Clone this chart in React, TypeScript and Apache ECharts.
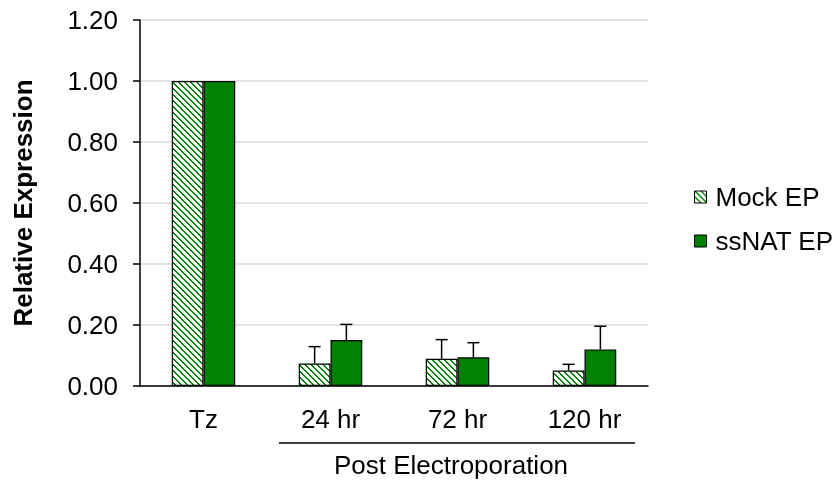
import React, { useEffect, useRef } from "react";
import * as echarts from "echarts";

const categories = ["Tz", "24 hr", "72 hr", "120 hr"];
const mockValues = [1.0, 0.074, 0.089, 0.051];
const mockErrors = [0, 0.055, 0.063, 0.02];
const ssnatValues = [1.0, 0.151, 0.094, 0.12];
const ssnatErrors = [0, 0.051, 0.048, 0.076];
const yTicks = { min: 0, max: 1.2, interval: 0.2 };

const FONT = "'Liberation Sans', Arial, sans-serif";
const GREEN = "#008000";

function hatchUrl(): string {
  const n = 6;
  let rects = "";
  for (let i = 0; i < n; i++) {
    rects += `<rect x='${i}' y='${i}' width='1' height='1'/>`;
    rects += `<rect x='${(i + 1) % n}' y='${i}' width='1' height='1'/>`;
  }
  const svg = `<svg xmlns='http://www.w3.org/2000/svg' width='${n}' height='${n}' shape-rendering='crispEdges'><rect width='${n}' height='${n}' fill='#ffffff'/><g fill='${GREEN}'>${rects}</g></svg>`;
  return "data:image/svg+xml;charset=utf-8," + encodeURIComponent(svg);
}

export default function App() {
  const ref = useRef<HTMLDivElement>(null);
  useEffect(() => {
    if (!ref.current) return;
    const chart = echarts.init(ref.current, null, { renderer: "svg" });
    const hatch = { image: hatchUrl(), repeat: "repeat", imageWidth: 6, imageHeight: 6 };

    const errRender = (offset: number) => (params: any, api: any) => {
      const idx = api.value(0);
      const val = api.value(1);
      const err = api.value(2);
      if (!err) return null;
      const base = api.coord([idx, val]);
      const top = api.coord([idx, val + err]);
      const band = api.size([1, 0])[0];
      const x = base[0] + offset * band;
      const st = { stroke: "#000", lineWidth: 1.5 };
      return {
        type: "group",
        children: [
          { type: "line", shape: { x1: x, y1: base[1], x2: x, y2: top[1] }, style: st },
          { type: "line", shape: { x1: x - 6, y1: top[1], x2: x + 6, y2: top[1] }, style: st },
        ],
      };
    };

    chart.setOption({
      animation: false,
      textStyle: { fontFamily: FONT },
      grid: { left: 140, right: 187, top: 20, bottom: 102 },
      legend: {
        orient: "vertical",
        left: 689,
        top: 179,
        itemWidth: 12,
        itemHeight: 12,
        itemGap: 18,
        icon: "rect",
        itemStyle: { borderColor: "#000", borderWidth: 1 },
        data: ["Mock EP", "ssNAT EP"],
        textStyle: { fontSize: 26, color: "#000", fontFamily: FONT, lineHeight: 24, padding: [0, 0, 0, 4] },
      },
      xAxis: {
        type: "category",
        data: categories,
        axisLine: { lineStyle: { color: "#000", width: 1.5 } },
        axisTick: { length: 7, lineStyle: { color: "#000", width: 1.5 } },
        axisLabel: { fontSize: 26, color: "#000", margin: 20, fontFamily: FONT },
      },
      yAxis: {
        type: "value",
        min: yTicks.min,
        max: yTicks.max,
        interval: yTicks.interval,
        name: "Relative Expression",
        nameLocation: "middle",
        nameGap: 104,
        nameTextStyle: { fontSize: 26, fontWeight: "bold", color: "#000", fontFamily: FONT },
        axisLine: { show: true, lineStyle: { color: "#000", width: 1.5 } },
        axisTick: { show: true, length: 7, lineStyle: { color: "#000", width: 1.5 } },
        axisLabel: { fontSize: 26, color: "#000", margin: 22, fontFamily: FONT, formatter: (v: number) => v.toFixed(2) },
        splitLine: { lineStyle: { color: "#d9d9d9", width: 1.5 } },
      },
      series: [
        {
          name: "Mock EP",
          type: "bar",
          data: mockValues,
          barGap: "0%",
          barCategoryGap: "50%",
          itemStyle: { color: hatch, borderColor: "#000", borderWidth: 1.2 },
        },
        {
          name: "ssNAT EP",
          type: "bar",
          data: ssnatValues,
          barGap: "0%",
          barCategoryGap: "50%",
          itemStyle: { color: GREEN, borderColor: "#000", borderWidth: 1.2 },
        },
        {
          name: "mockErr",
          type: "custom",
          data: categories.map((_, i) => [i, mockValues[i], mockErrors[i]]),
          encode: { x: 0, y: 1 },
          renderItem: errRender(-0.125),
          z: 5,
        },
        {
          name: "ssnatErr",
          type: "custom",
          data: categories.map((_, i) => [i, ssnatValues[i], ssnatErrors[i]]),
          encode: { x: 0, y: 1 },
          renderItem: errRender(0.125),
          z: 5,
        },
      ],
      graphic: [
        {
          type: "line",
          shape: { x1: 279, y1: 443, x2: 635, y2: 443 },
          style: { stroke: "#000", lineWidth: 1.5 },
        },
        {
          type: "text",
          x: 451,
          y: 465,
          style: {
            text: "Post Electroporation",
            fontSize: 26,
            fontFamily: FONT,
            fill: "#000",
            align: "center",
            verticalAlign: "middle",
          },
        },
      ],
    });
    return () => chart.dispose();
  }, []);
  return <div ref={ref} style={{ position: "fixed", left: 0, top: 0, width: 835, height: 488 }} />;
}
